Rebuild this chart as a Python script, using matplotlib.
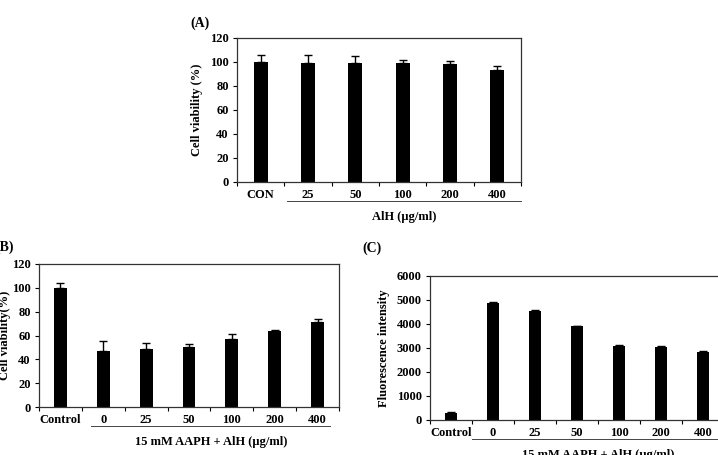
import matplotlib
matplotlib.use("Agg")
import matplotlib.pyplot as plt
import numpy as np
from matplotlib.transforms import blended_transform_factory

plt.rcParams['font.family'] = ['Liberation Serif', 'DejaVu Serif']
plt.rcParams['font.weight'] = 'bold'

# Panel A
cats_a = ["CON", "25", "50", "100", "200", "400"]
vals_a = [100, 99, 99, 99, 98, 93]
err_a = [5.5, 7, 6, 2.5, 3, 4]

# Panel B
cats_b = ["Control", "0", "25", "50", "100", "200", "400"]
vals_b = [100, 47, 49, 50, 57, 63.5, 71.5]
err_b = [4, 8, 5, 3, 4.5, 1, 2.5]

# Panel C
cats_c = ["Control", "0", "25", "50", "100", "200", "400"]
vals_c = [300, 4870, 4550, 3900, 3100, 3040, 2830]
err_c = [20, 30, 30, 30, 25, 25, 25]

W, H = 718, 455
fig = plt.figure(figsize=(W / 100, H / 100), dpi=100)


def px_axes(left, top, right, bottom):
    return fig.add_axes([left / W, (H - bottom) / H, (right - left) / W, (bottom - top) / H])


def draw(ax, cats, vals, errs, ymax, ystep, ylabel, xlabel, line_x, fs=9, lpad=5):
    x = np.arange(len(cats))
    ax.bar(x, vals, width=0.3, color='black', zorder=2)
    ax.errorbar(x, vals, yerr=[np.zeros(len(vals)), errs], fmt='none',
                ecolor='black', elinewidth=1.0, capsize=3, capthick=1.0, zorder=3)
    ax.set_xlim(-0.5, len(cats) - 0.5)
    ax.set_ylim(0, ymax)
    ax.set_yticks(np.arange(0, ymax + 1, ystep))
    ax.set_xticks(np.arange(-0.5, len(cats), 1.0))
    ax.set_xticklabels([])
    ax.set_xticks(x, minor=True)
    ax.set_xticklabels(cats, minor=True, fontsize=fs, fontweight='bold')
    ax.tick_params(axis='x', which='minor', length=0, pad=5)
    ax.tick_params(axis='x', which='major', length=3, direction='out', width=0.8)
    ax.tick_params(axis='y', length=3, direction='out', width=0.8, labelsize=9, pad=3)
    for lab in ax.get_yticklabels():
        lab.set_fontweight('bold')
    for s in ax.spines.values():
        s.set_linewidth(0.9)
        s.set_color('#333333')
    ax.set_ylabel(ylabel, fontsize=fs, fontweight='bold', labelpad=lpad)
    tr = blended_transform_factory(ax.transData, ax.transAxes)
    ax.plot(line_x, [-0.135, -0.135], color='#444444', lw=0.7, transform=tr, clip_on=False)
    ax.text(0.5 * (line_x[0] + line_x[1]), -0.245, xlabel, transform=tr, ha='center',
            va='center', fontsize=fs, fontweight='bold')


axA = px_axes(237, 38, 521, 182)
draw(axA, cats_a, vals_a, err_a, 120, 20, "Cell viability (%)", "AlH (μg/ml)", [0.55, 5.5])
fig.text(190 / W, 1 - 23 / H, "(A)", fontsize=10, fontweight='bold', va='center', ha='left')

axB = px_axes(39, 264, 339, 407)
draw(axB, cats_b, vals_b, err_b, 120, 20, "Cell viability(%)", "15 mM AAPH + AlH (μg/ml)", [0.72, 6.3], lpad=1)
fig.text(-5 / W, 1 - 247 / H, "(B)", fontsize=10, fontweight='bold', va='center', ha='left')

axC = px_axes(430, 276, 724, 420)
draw(axC, cats_c, vals_c, err_c, 6000, 1000, "Fluorescence intensity", "15 mM AAPH + AlH (μg/ml)", [0.5, 6.5])
fig.text(362 / W, 1 - 248 / H, "(C)", fontsize=10, fontweight='bold', va='center', ha='left')

fig.savefig("out.png", dpi=100)
